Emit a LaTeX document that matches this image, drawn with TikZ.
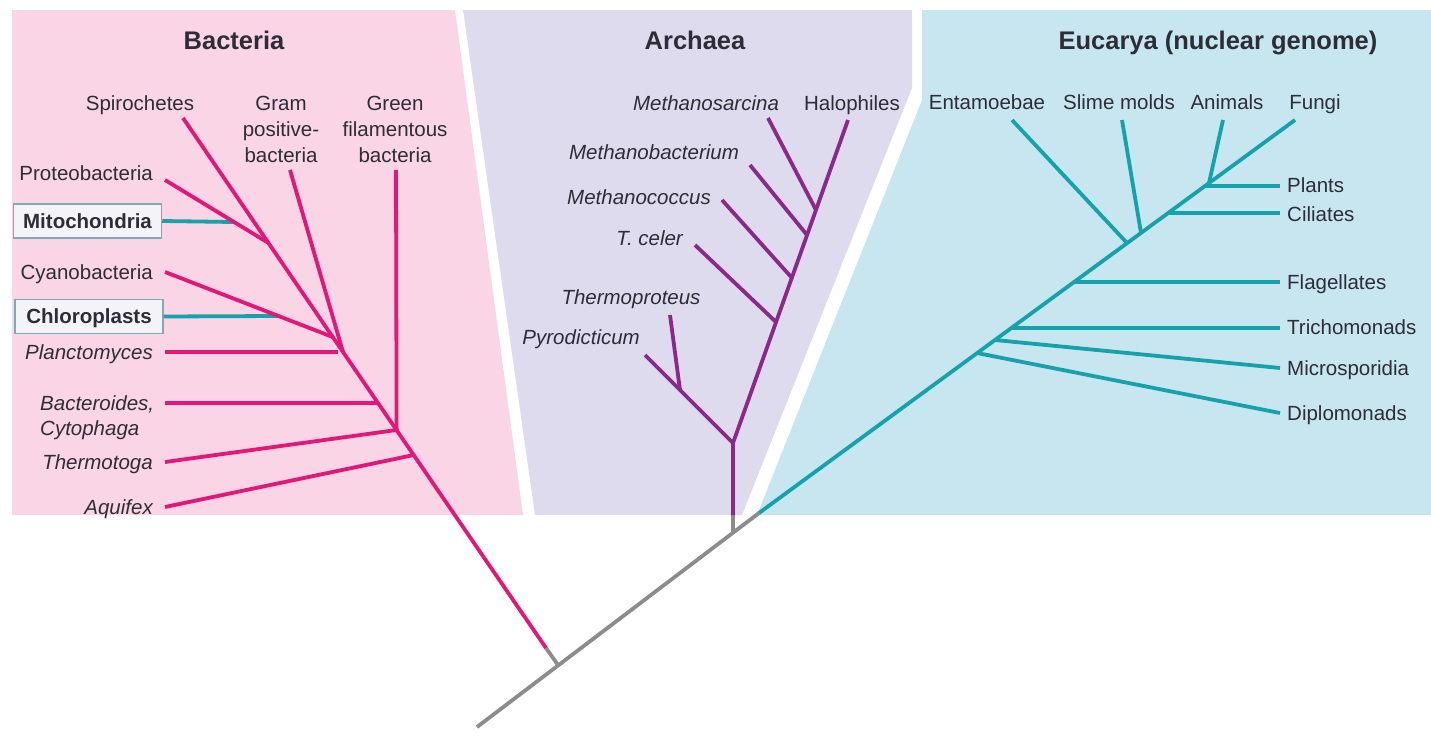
\documentclass[tikz,border=0pt]{standalone}
\usepackage{fontspec}
\setmainfont{Liberation Sans}
\usepackage{tikz}
\usetikzlibrary{calc}
\definecolor{bacbg}{RGB}{249,213,229}
\definecolor{arcbg}{RGB}{223,219,238}
\definecolor{eukbg}{RGB}{199,230,240}
\definecolor{bacln}{RGB}{228,22,120}
\definecolor{arcln}{RGB}{140,40,140}
\definecolor{eukln}{RGB}{20,162,172}
\definecolor{rootln}{RGB}{140,140,140}
\definecolor{txt}{RGB}{45,45,55}
\definecolor{boxln}{RGB}{125,170,180}
\definecolor{boxbg}{RGB}{243,243,248}

\begin{document}
\begin{tikzpicture}[x=1pt,y=-1pt,
  lbl/.style={font=\fontsize{20.5}{26}\selectfont,text=txt,inner sep=0pt,text height=14.5pt,text depth=0pt},
  ttl/.style={font=\fontsize{25.5}{30}\selectfont\bfseries,text=txt,inner sep=0pt,text height=18.5pt,text depth=0pt},
  orgbox/.style={lbl,font=\fontsize{20.5}{26}\selectfont\bfseries,draw=boxln,fill=boxbg,line width=1.5pt,minimum width=148pt,minimum height=34pt},
  br/.style={line width=3.8pt,line join=round},
  bac/.style={br,draw=bacln}, arc/.style={br,draw=arcln},
  euk/.style={br,draw=eukln}, rootbr/.style={br,draw=rootln}]
  \useasboundingbox (0,0) rectangle (1431,736);
  % the three domains
  \fill[bacbg] (12,10) -- (455,10) -- (523,515) -- (12,515) -- cycle;
  \fill[arcbg] (463,10) -- (912,10) -- (912,88) -- (742,515) -- (535,515) -- cycle;
  \fill[eukbg] (922,10) -- (1431,10) -- (1431,515) -- (757,515) -- (922,100) -- cycle;
  \node[ttl] (bactitle) at (234,40) {Bacteria};
  \node[ttl] (arctitle) at (695,40) {Archaea};
  \node[ttl] (euktitle) at (1218,40) {Eucarya (nuclear genome)};

  % root
  \coordinate (rt) at (477,727); \coordinate (bR) at (558,665); \coordinate (bG) at (546,648);
  \coordinate (aR) at (733,532); \coordinate (aP) at (733,515); \coordinate (eE) at (759,513);
  \draw[rootbr] (rt) -- (eE);
  \draw[rootbr] (bR) -- (bG);
  \draw[rootbr] (aR) -- (aP);

  % Bacteria
  \coordinate (bT) at (343,352);
  \foreach \n/\x/\y in {spT/183/118,grT/290/170,gfT/396/170,prT/165/180,cyT/165/272,plT/165/352,btT/165/403,thT/165/462,aqT/165/507,
    pJ/268.5/243,cJ/332.7/337,plJ/338/352,btJ/378/403,gJ/396.6/430,aqJ/413.8/455,mJ/233.7/222,chJ/278/316}
    \coordinate (\n) at (\x,\y);
  \node[orgbox] (mito) at (87.5,221) {Mitochondria};
  \node[orgbox] (chlo) at (89,316.5) {Chloroplasts};
  \draw[euk] (mito.east) -- (mJ);
  \draw[euk] (chlo.east) -- (chJ);
  \draw[bac] (bG) -- (bT);
  \foreach \a/\b in {spT/bT,grT/bT,prT/pJ,cyT/cJ,plT/plJ,btT/btJ,gfT/gJ,thT/gJ,aqT/aqJ}
    \draw[bac] (\a) -- (\b);
  \node[lbl] (spiro) at (140,103) {Spirochetes};
  % multi-line labels sit on their last line
  \node[lbl,align=center] (gram) at (281,155) {Gram\\positive-\\bacteria};
  \node[lbl,align=center] (green) at (395,155) {Green\\filamentous\\bacteria};
  \foreach \n/\y/\t in {prot/173/Proteobacteria,cyano/272/Cyanobacteria,planc/352/\itshape Planctomyces,
    thermo/462/\itshape Thermotoga,aquif/507/\itshape Aquifex}
    \node[lbl,anchor=east] (\n) at (153,\y) {\t};
  \node[lbl,anchor=west,align=left,font=\fontsize{20.5}{25}\selectfont\itshape] (bactero) at (40,428) {Bacteroides,\\Cytophaga};

  % Archaea
  \foreach \n/\x/\y in {aF/733/443,haT/848/120,msT/768/118,mbT/750/165,mcT/722/200,tcT/695/245,pyT/645/355,tpT/670/315,
    j1/816/210,j2/807/235,j3/792/278,j4/776/322,tpJ/680/390}
    \coordinate (\n) at (\x,\y);
  \draw[arc] (aP) -- (aF) -- (haT);
  \draw[arc] (aF) -- (pyT);
  \foreach \a/\b in {msT/j1,mbT/j2,mcT/j3,tcT/j4,tpT/tpJ}
    \draw[arc] (\a) -- (\b);
  \node[lbl,font=\fontsize{20.5}{26}\selectfont\itshape] (msarc) at (706,103) {Methanosarcina};
  \node[lbl] (halo) at (852,103) {Halophiles};
  \node[lbl,font=\fontsize{20.5}{26}\selectfont\itshape] (mbact) at (654,152) {Methanobacterium};
  \node[lbl,anchor=east,font=\fontsize{20.5}{26}\selectfont\itshape] (mcocc) at (711,197) {Methanococcus};
  \node[lbl,anchor=east,font=\fontsize{20.5}{26}\selectfont\itshape] (tceler) at (683,238) {T. celer};
  \node[lbl,font=\fontsize{20.5}{26}\selectfont\itshape] (tprot) at (631,297) {Thermoproteus};
  \node[lbl,anchor=east,font=\fontsize{20.5}{26}\selectfont\itshape] (pyro) at (640,337) {Pyrodicticum};

  % Eucarya
  \foreach \n/\x/\y in {fuT/1295/120,enT/1012/120,slT/1122/120,anT/1223/120,
    diJ/977/353,miJ/995/340,trJ/1011/328,flJ/1074/282,enJ/1127/243,slJ/1141/233,ciJ/1168/213,ptJ/1205/186,anJ/1209/183,
    ptT/1280/186,ciT/1280/213,flT/1280/282,trT/1280/328,miT/1280/368,diT/1280/413}
    \coordinate (\n) at (\x,\y);
  \draw[euk] (eE) -- (fuT);
  \foreach \a/\b in {enT/enJ,slT/slJ,anT/anJ,ptJ/ptT,ciJ/ciT,flJ/flT,trJ/trT,miJ/miT,diJ/diT}
    \draw[euk] (\a) -- (\b);
  \foreach \n/\x/\t in {entam/987/Entamoebae,slime/1119/Slime molds,anim/1227/Animals,fungi/1315/Fungi}
    \node[lbl] (\n) at (\x,102) {\t};
  \foreach \n/\y/\t in {plants/185/Plants,cili/214/Ciliates,flag/282/Flagellates,trich/327/Trichomonads,
    micro/368/Microsporidia,diplo/413/Diplomonads}
    \node[lbl,anchor=west] (\n) at (1287,\y) {\t};
\end{tikzpicture}
\end{document}
